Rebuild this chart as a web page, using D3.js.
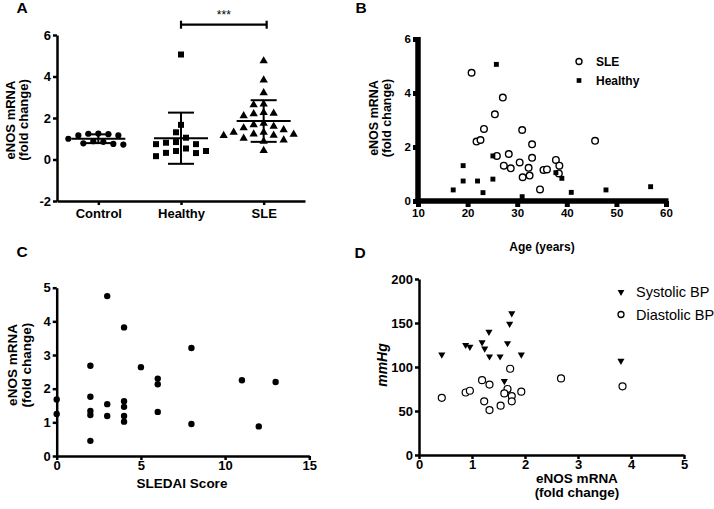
<!DOCTYPE html>
<html><head><meta charset="utf-8">
<script src="https://cdn.jsdelivr.net/npm/d3@7"></script>
<style>
body{margin:0;background:#fff;}
text{font-family:"Liberation Sans",Arial,sans-serif;fill:#000;}
</style></head>
<body>
<svg id="c" width="714" height="509"></svg>
<script>
// ---------- DATA ----------
// Panel A
const groupsA = ["Control","Healthy","SLE"];
const controlVals = [1.16,1.25,1.22,1.24,1.16,1.0,0.88,0.78,0.72,0.75,0.85];
const healthyVals = [5.06,1.67,1.31,1.05,0.84,0.81,0.74,0.74,0.53,0.41,0.41,0.32,0.31,0.16];
const sleVals = [4.75,3.83,3.21,2.67,2.2,2.26,2.63,2.1,1.67,1.74,1.31,1.21,1.43,1.6,1.23,0.94,0.88,0.43,1.15,1.17,1.52,1.31,1.02,2.23];
const yTicksA = [-2,0,2,4,6];
// Panel B
const sleAge = [20.8,27.1,25.5,23.3,21.8,22.6,31.0,33.0,25.9,28.3,27.3,28.7,30.5,33.0,32.3,32.5,31.1,34.6,35.3,36.0,37.8,38.5,38.4,45.7];
const sleB = sleVals;
const healthyAge = [25.8,25.1,19.1,37.8,39.0,25.1,19.1,22.0,56.9,17.1,47.9,40.9,23.1,31.0];
const healthyB = healthyVals;
const xTicksB = [10,20,30,40,50,60];
const yTicksB = [0,2,4,6];
// Panel C
const sledai = [0,0,2,2,2,2,2,3,3,3,4,4,4,4,4,5,6,6,6,8,8,11,12,13];
const enosC = [1.68,1.25,2.68,1.76,1.34,1.22,0.45,4.75,1.54,1.19,3.82,1.63,1.46,1.19,1.02,2.64,2.3,2.13,1.31,3.21,0.95,2.25,0.88,2.2];
const xTicksC = [0,5,10,15];
const yTicksC = [0,1,2,3,4,5];
// Panel D
const sysX = [0.43,0.88,0.96,1.19,1.24,1.32,1.33,1.53,1.67,1.71,1.75,1.61,1.93,3.81];
const sysY = [114,125,123,128,121,140,112,112,127,149,161,84,114,107];
const diaX = [0.43,0.88,0.96,1.19,1.33,1.23,1.33,1.54,1.72,1.67,1.61,1.75,1.75,1.93,2.68,3.84];
const diaY = [65,71,73,85,80,61,51,56,98,75,70,67,61,72,87,78];
const xTicksD = [0,1,2,3,4,5];
const yTicksD = [0,50,100,150,200];

// ---------- DRAW ----------
const svg = d3.select("#c");
const FONT = '"Liberation Sans",Arial,sans-serif';
const fmt = d => String(d);

function label(txt, x, y, opts={}) {
  const t = svg.append("text").attr("x",x).attr("y",y).text(txt)
    .attr("font-size", opts.size||13).attr("font-weight", opts.weight||"bold")
    .attr("text-anchor", opts.anchor||"middle");
  if (opts.italic) t.attr("font-style","italic");
  if (opts.rotate) t.attr("transform",`rotate(-90,${x},${y})`);
  return t;
}

function styleAxis(g, width, tickW, fs) {
  g.select(".domain").attr("stroke","#000").attr("stroke-width",width);
  g.selectAll(".tick line").attr("stroke","#000").attr("stroke-width",tickW);
  g.selectAll(".tick text").attr("font-size",fs||13).attr("font-weight","bold")
    .attr("font-family",FONT).attr("fill","#000");
}

// panel letters
label("A",22,13,{size:15.5});
label("B",361,13,{size:15.5});
label("C",22,257,{size:15.5});
label("D",360,258,{size:15.5});

// ===== Panel A =====
{
  const x = d3.scalePoint().domain(groupsA).range([57,305]).padding(0.5);
  const y = d3.scaleLinear().domain([-2,6]).range([201,35]);
  const ya = svg.append("g").attr("transform","translate(57,0)")
    .call(d3.axisLeft(y).tickValues(yTicksA).tickFormat(fmt).tickSize(4).tickSizeOuter(0).tickPadding(2));
  styleAxis(ya,2.5,2.5,13);
  const xa = svg.append("g").attr("transform","translate(0,201)")
    .call(d3.axisBottom(x).tickSize(4).tickSizeOuter(0).tickPadding(4));
  styleAxis(xa,2.5,2.5,13);
  label("eNOS mRNA",15,120,{rotate:true,size:13});
  label("(fold change)",28,120,{rotate:true,size:13});

  const shapes = {Control:d3.symbolCircle, Healthy:d3.symbolSquare, SLE:d3.symbolTriangle};
  const sizes = {Control:30, Healthy:36, SLE:30};
  const data = {Control:controlVals, Healthy:healthyVals, SLE:sleVals};
  groupsA.forEach(gname=>{
    const vals = data[gname].slice().sort((a,b)=>b-a);
    const cx = x(gname);
    const placed = [];
    const d = 8.5;
    vals.forEach(v=>{
      const py = y(v);
      let px=cx;
      const cands=[0];
      for(let i=1;i<14;i++){cands.push(-i*5, i*5);}
      for(const off of cands){
        const ok = placed.every(p=>Math.hypot(p[0]-(cx+off),p[1]-py) >= d);
        if(ok){px=cx+off;break;}
      }
      placed.push([px,py]);
    });
    svg.append("g").selectAll("path").data(placed).join("path")
      .attr("d", d3.symbol().type(shapes[gname]).size(sizes[gname]))
      .attr("transform",p=>`translate(${p[0]},${p[1]})`).attr("fill","#000");
    // mean & sd
    const m = d3.mean(data[gname]), s = d3.deviation(data[gname]);
    const g = svg.append("g").attr("stroke","#000").attr("stroke-width",2);
    g.append("line").attr("x1",cx-27).attr("x2",cx+27).attr("y1",y(m)).attr("y2",y(m));
    g.append("line").attr("x1",cx-13).attr("x2",cx+13).attr("y1",y(m+s)).attr("y2",y(m+s));
    g.append("line").attr("x1",cx-13).attr("x2",cx+13).attr("y1",y(m-s)).attr("y2",y(m-s));
    g.append("line").attr("x1",cx).attr("x2",cx).attr("y1",y(m+s)).attr("y2",y(m-s));
  });
  // significance
  const sy = 24.7, x1 = x("Healthy"), x2 = x("SLE")+3;
  const g = svg.append("g").attr("stroke","#000").attr("stroke-width",2.2);
  g.append("line").attr("x1",x1).attr("x2",x2).attr("y1",sy).attr("y2",sy);
  g.append("line").attr("x1",x1).attr("x2",x1).attr("y1",sy-4).attr("y2",sy+4);
  g.append("line").attr("x1",x2).attr("x2",x2).attr("y1",sy-4).attr("y2",sy+4);
  label("***",(x1+x2)/2,19,{size:12,weight:"normal"});
}

// ===== Panel B =====
{
  const x = d3.scaleLinear().domain([10,60]).range([418,666]);
  const y = d3.scaleLinear().domain([0,6]).range([201,39]);
  const ya = svg.append("g").attr("transform","translate(418,0)")
    .call(d3.axisLeft(y).tickValues(yTicksB).tickFormat(fmt).tickSize(5).tickSizeOuter(0).tickPadding(2));
  styleAxis(ya,5.5,5,11.5);
  const xa = svg.append("g").attr("transform","translate(0,201)")
    .call(d3.axisBottom(x).tickValues(xTicksB).tickFormat(fmt).tickSize(6).tickSizeOuter(0).tickPadding(2));
  styleAxis(xa,5.5,5,11.5);
  xa.select(".domain").attr("d","M415.5,0H668.5");
  ya.select(".domain").attr("d","M0,203.5V37");
  label("eNOS mRNA",378,118,{rotate:true,size:12.5});
  label("(fold change)",391,118,{rotate:true,size:12.5});
  label("Age (years)",542,251,{size:12});
  svg.append("g").selectAll("circle").data(sleAge).join("circle")
    .attr("cx",d=>x(d)).attr("cy",(d,i)=>y(sleB[i])).attr("r",3.3)
    .attr("fill","#fff").attr("stroke","#000").attr("stroke-width",1.4);
  svg.append("g").selectAll("path").data(healthyAge).join("path")
    .attr("d",d3.symbol().type(d3.symbolSquare).size(24))
    .attr("transform",(d,i)=>`translate(${x(d)},${y(healthyB[i])})`).attr("fill","#000");
  // legend
  svg.append("circle").attr("cx",579).attr("cy",61.5).attr("r",3).attr("fill","#fff").attr("stroke","#000").attr("stroke-width",1.4);
  svg.append("path").attr("d",d3.symbol().type(d3.symbolSquare).size(22)).attr("transform","translate(579,80.5)");
  label("SLE",596,65.5,{anchor:"start",size:12});
  label("Healthy",596,85,{anchor:"start",size:12});
}

// ===== Panel C =====
{
  const x = d3.scaleLinear().domain([0,15]).range([56.7,309.3]);
  const y = d3.scaleLinear().domain([0,5]).range([456,287.7]);
  const ya = svg.append("g").attr("transform","translate(56.7,0)")
    .call(d3.axisLeft(y).tickValues(yTicksC).tickFormat(fmt).tickSize(4).tickSizeOuter(0).tickPadding(2));
  styleAxis(ya,2.5,2.5,13);
  const xa = svg.append("g").attr("transform","translate(0,456)")
    .call(d3.axisBottom(x).tickValues(xTicksC).tickFormat(fmt).tickSize(4).tickSizeOuter(0).tickPadding(1));
  styleAxis(xa,2.5,2.5,13);
  label("eNOS mRNA",17,365,{rotate:true,size:13.5});
  label("(fold change)",31,365,{rotate:true,size:13.5});
  label("SLEDAI Score",182,488,{size:13.5});
  svg.append("g").selectAll("circle").data(sledai).join("circle")
    .attr("cx",d=>x(d)).attr("cy",(d,i)=>y(enosC[i])).attr("r",3.2).attr("fill","#000");
}

// ===== Panel D =====
{
  const x = d3.scaleLinear().domain([0,5]).range([419,684]);
  const y = d3.scaleLinear().domain([0,200]).range([455,279]);
  const ya = svg.append("g").attr("transform","translate(419,0)")
    .call(d3.axisLeft(y).tickValues(yTicksD).tickFormat(fmt).tickSize(4).tickSizeOuter(0).tickPadding(2));
  styleAxis(ya,2.5,2.5,13);
  const xa = svg.append("g").attr("transform","translate(0,455)")
    .call(d3.axisBottom(x).tickValues(xTicksD).tickFormat(fmt).tickSize(4).tickSizeOuter(0).tickPadding(1));
  styleAxis(xa,2.5,2.5,13);
  label("mmHg",387,365,{rotate:true,size:14,italic:true});
  label("eNOS mRNA",577,483,{size:13.5});
  label("(fold change)",577,497,{size:13.5});
  svg.append("g").selectAll("path").data(sysX).join("path")
    .attr("d",d3.symbol().type(d3.symbolTriangle).size(22))
    .attr("transform",(d,i)=>`translate(${x(d)},${y(sysY[i])}) rotate(180)`).attr("fill","#000");
  svg.append("g").selectAll("circle").data(diaX).join("circle")
    .attr("cx",d=>x(d)).attr("cy",(d,i)=>y(diaY[i])).attr("r",3.5)
    .attr("fill","#fff").attr("stroke","#000").attr("stroke-width",1.2);
  // legend
  svg.append("path").attr("d",d3.symbol().type(d3.symbolTriangle).size(20)).attr("transform","translate(621,292) rotate(180)");
  svg.append("circle").attr("cx",621).attr("cy",314.5).attr("r",3).attr("fill","#fff").attr("stroke","#000").attr("stroke-width",1.3);
  label("Systolic BP",636,297,{anchor:"start",size:14.5,weight:"normal"});
  label("Diastolic BP",636,319.5,{anchor:"start",size:14.5,weight:"normal"});
}
</script>
</body></html>
